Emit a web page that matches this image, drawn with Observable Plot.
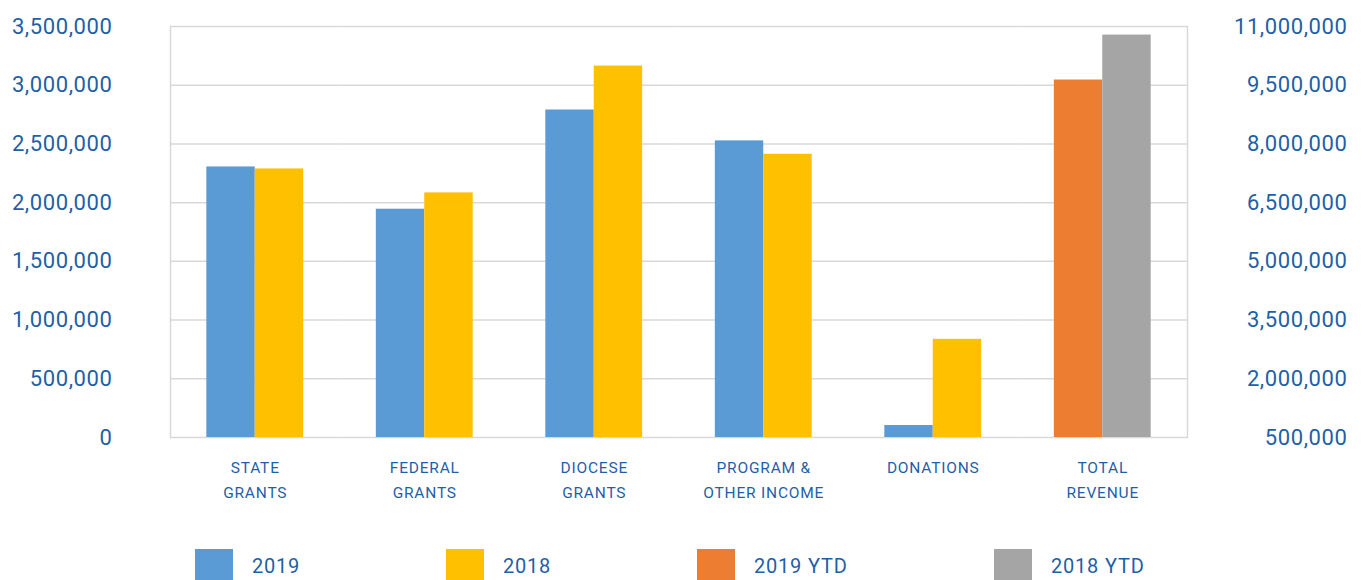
<!DOCTYPE html>
<html><head><meta charset="utf-8">
<script src="https://cdn.jsdelivr.net/npm/d3@7"></script>
<script src="https://cdn.jsdelivr.net/npm/@observablehq/plot@0.6"></script>
<style>
body{margin:0;background:#fff;width:1365px;height:580px;overflow:hidden;position:relative;font-family:Roboto,"Liberation Sans",sans-serif;}
#chart{position:absolute;left:0;top:0}
#chart svg text{letter-spacing:0.6px}
#chart svg g[aria-label="fx-axis tick label"] text{letter-spacing:0.8px}
.legend{position:absolute;top:549px;left:0;width:1365px;height:31px}
.item{position:absolute;top:0;display:flex;align-items:center;height:31px}
.sw{width:38px;height:31px;flex:none}
.lbl{margin-left:19px;color:#1f5fa8;font-size:20px;letter-spacing:0.8px;line-height:31px;padding-top:3px}
</style></head><body>
<div id="chart"></div>
<div class="legend" id="legend"></div>
<script>
const categories = ["STATE\nGRANTS","FEDERAL\nGRANTS","DIOCESE\nGRANTS","PROGRAM &\nOTHER INCOME","DONATIONS","TOTAL\nREVENUE"];
const values2019 = [2304000, 1944000, 2789000, 2526000, 102000];
const values2018 = [2287000, 2083000, 3163000, 2412000, 836000];
const total2019YTD = 9633000;
const total2018YTD = 10781000;
const series = ["2019", "2018", "2019 YTD", "2018 YTD"];
const seriesColors = ["#5B9BD5", "#FFC000", "#ED7D31", "#A5A5A5"];
const leftTicks = [0, 500000, 1000000, 1500000, 2000000, 2500000, 3000000, 3500000];
const rightTicks = [500000, 2000000, 3500000, 5000000, 6500000, 8000000, 9500000, 11000000];
const legendLefts = [195, 446, 697, 994];

const leftMax = leftTicks[leftTicks.length - 1];
const rMin = rightTicks[0], rMax = rightTicks[rightTicks.length - 1];
const toLeft = v => (v - rMin) * leftMax / (rMax - rMin);
const toRight = v => rMin + v * (rMax - rMin) / leftMax;

const rows = [];
values2019.forEach((v, i) => {
  rows.push({cat: categories[i], slot: "a", series: series[0], value: v});
  rows.push({cat: categories[i], slot: "b", series: series[1], value: values2018[i]});
});
rows.push({cat: categories[5], slot: "a", series: series[2], value: toLeft(total2019YTD)});
rows.push({cat: categories[5], slot: "b", series: series[3], value: toLeft(total2018YTD)});

const txt = "#1f5fa8";
const fmt = d3.format(",");
const chart = Plot.plot({
  width: 1365, height: 540,
  marginLeft: 170, marginRight: 178, marginTop: 26, marginBottom: 103,
  style: {fontFamily: 'Roboto,"Liberation Sans",sans-serif', color: txt, background: "transparent"},
  fx: {domain: categories, padding: 0, round: false, label: null},
  x: {domain: ["a", "b"], paddingInner: 0, paddingOuter: 0.75, round: false, axis: null},
  y: {domain: [0, leftMax], label: null},
  color: {domain: series, range: seriesColors},
  marks: [
    Plot.gridY(leftTicks, {stroke: "#d9d9d9", strokeOpacity: 1, strokeWidth: 1.5}),
    Plot.frame({anchor: "left", facetAnchor: "left", stroke: "#d9d9d9", strokeWidth: 1.5}),
    Plot.frame({anchor: "right", facetAnchor: "right", stroke: "#d9d9d9", strokeWidth: 1.5}),
    Plot.barY(rows, {fx: "cat", x: "slot", y: "value", fill: "series"}),
    Plot.axisY(leftTicks, {anchor: "left", tickSize: 0, tickPadding: 58, tickFormat: fmt, fontSize: 22, fill: txt, label: null}),
    Plot.axisY(rightTicks.map(toLeft), {anchor: "right", tickSize: 0, tickPadding: 160, textAnchor: "end", tickFormat: d => fmt(Math.round(toRight(d))), fontSize: 22, fill: txt, label: null}),
    Plot.axisFx({anchor: "bottom", tickSize: 0, tickPadding: 17, lineHeight: 1.66, fontSize: 15.5, fill: txt, label: null})
  ]
});
document.getElementById("chart").append(chart);

const leg = document.getElementById("legend");
series.forEach((s, i) => {
  const it = document.createElement("div");
  it.className = "item";
  it.style.left = legendLefts[i] + "px";
  it.innerHTML = `<div class="sw" style="background:${seriesColors[i]}"></div><div class="lbl">${s}</div>`;
  leg.append(it);
});
</script>
</body></html>
